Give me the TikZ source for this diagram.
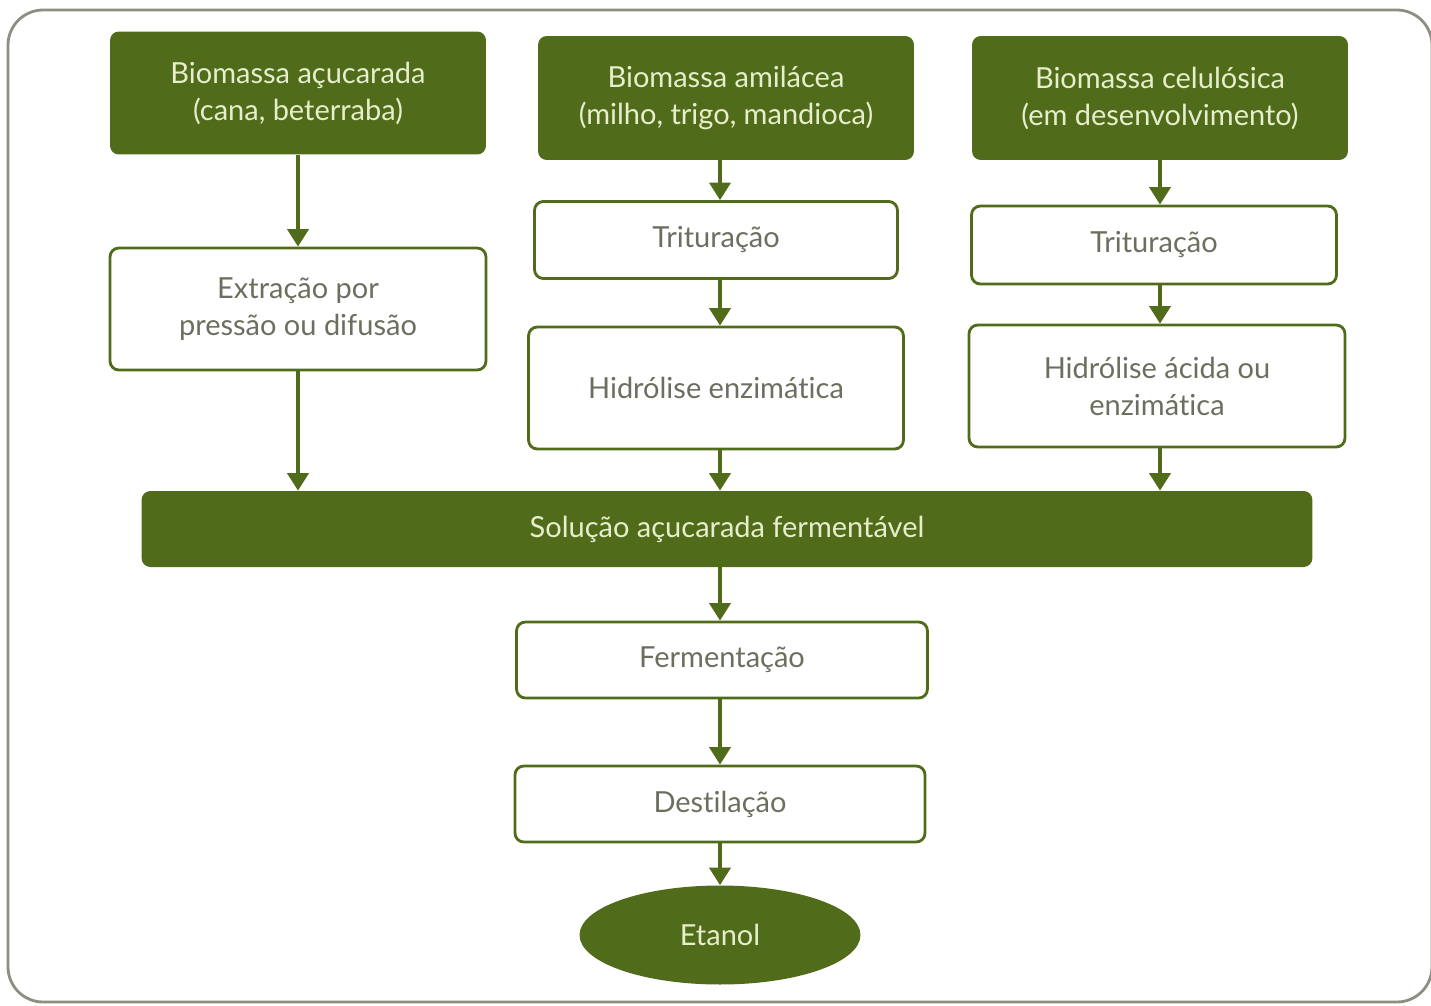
\documentclass[tikz,border=0pt]{standalone}
\usepackage{fontspec}
\setmainfont{Lato}[Ligatures=NoCommon]
\usetikzlibrary{shapes.geometric,arrows.meta}
\definecolor{leaf}{HTML}{506C1A}
\definecolor{leaftext}{HTML}{E6EECB}
\definecolor{steptext}{HTML}{6E6E60}
\definecolor{framegray}{HTML}{8E8E82}
\begin{document}
\begin{tikzpicture}[x=0.02cm,y=-0.02cm,
  every node/.style={font=\fontsize{16.5}{21}\selectfont, align=center, inner sep=0pt},
  source/.style={rectangle, rounded corners=5pt, fill=leaf, text=leaftext},
  stepbox/.style={rectangle, rounded corners=5pt, draw=leaf, line width=1.6pt, fill=white, text=steptext},
  flow/.style={draw=leaf, line width=2.2pt, -{Triangle[width=12pt,length=10pt]}}
]
% canvas and outer frame
\useasboundingbox (0,0) rectangle (1431,1005);
\fill[white] (0,0) rectangle (1431,1005);
\draw[framegray, line width=1.6pt, rounded corners=20pt] (8,10) rectangle (1432,1002);

% raw materials
\node[source, minimum width=7.52cm, minimum height=2.46cm] (b1) at (298,93) {Biomassa açucarada\\(cana, beterraba)};
\node[source, minimum width=7.52cm, minimum height=2.48cm] (b2) at (726,98) {Biomassa amilácea\\(milho, trigo, mandioca)};
\node[source, minimum width=7.52cm, minimum height=2.48cm] (b3) at (1160,98) {Biomassa celulósica\\(em desenvolvimento)};

% pre-treatment steps
\node[stepbox, minimum width=7.52cm, minimum height=2.44cm] (ext) at (298,309) {Extração por\\pressão ou difusão};
\node[stepbox, minimum width=7.26cm, minimum height=1.54cm] (t2) at (716,240) {Trituração};
\node[stepbox, minimum width=7.50cm, minimum height=2.44cm] (h2) at (716,388) {Hidrólise enzimática};
\node[stepbox, minimum width=7.30cm, minimum height=1.56cm] (t3) at (1154,245) {Trituração};
\node[stepbox, minimum width=7.52cm, minimum height=2.44cm] (h3) at (1157,386) {Hidrólise ácida ou\\enzimática};

% common stream
\node[source, minimum width=23.42cm, minimum height=1.52cm] (sol) at (727,529) {Solução açucarada fermentável};
\node[stepbox, minimum width=8.22cm, minimum height=1.52cm] (fer) at (722,660) {Fermentação};
\node[stepbox, minimum width=8.20cm, minimum height=1.52cm] (des) at (720,804) {Destilação};
\node[ellipse, fill=leaf, text=leaftext, minimum width=5.62cm, minimum height=1.98cm] (eta) at (720,935) {Etanol};

% arrow columns
\coordinate (xl) at (298,0);
\coordinate (xm) at (720,0);
\coordinate (xr) at (1160,0);

\draw[flow] (b1.south -| xl) -- (ext.north -| xl);
\draw[flow] (ext.south -| xl) -- (sol.north -| xl);
\draw[flow] (b2.south -| xm) -- (t2.north -| xm);
\draw[flow] (t2.south -| xm) -- (h2.north -| xm);
\draw[flow] (h2.south -| xm) -- (sol.north -| xm);
\draw[flow] (b3.south -| xr) -- (t3.north -| xr);
\draw[flow] (t3.south -| xr) -- (h3.north -| xr);
\draw[flow] (h3.south -| xr) -- (sol.north -| xr);
\draw[flow] (sol.south -| xm) -- (fer.north -| xm);
\draw[flow] (fer.south -| xm) -- (des.north -| xm);
\draw[flow] (des.south -| xm) -- (eta.north);
\end{tikzpicture}
\end{document}
